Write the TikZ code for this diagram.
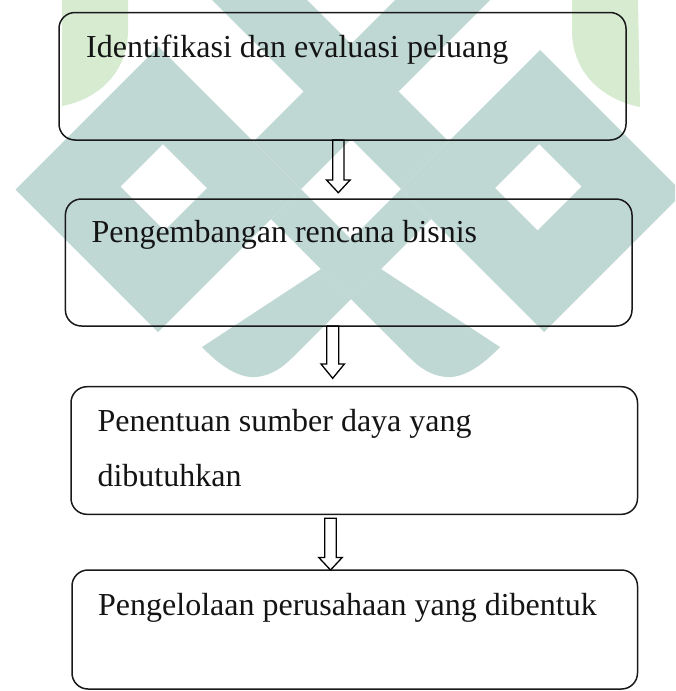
\documentclass[tikz,border=0pt]{standalone}
\usepackage{fontspec}
\setmainfont{Liberation Serif}
\usetikzlibrary{calc}
\definecolor{wmteal}{HTML}{C0D8D4}
\definecolor{wmgreen}{HTML}{D6EBCF}
\newcommand\uvbox[4]{(#1,#2)--(#3,#2)--(#3,#4)--(#1,#4)--cycle}
\tikzset{
  box/.style={draw=black!90, line width=1.5pt, rounded corners=16pt, inner sep=0pt, outer sep=0pt},
  lbl/.style={anchor=base west, inner sep=0pt, font=\fontsize{32}{38}\selectfont, text=black!92},
  blockarrow/.style={draw=black, line width=1.3pt, line join=miter}
}
\begin{document}
\begin{tikzpicture}[x=1pt,y=-1pt]
\useasboundingbox (0,0) rectangle (675,691);
\begin{scope}
\clip (0,0) rectangle (675,691);
% watermark (approximate)
\fill[wmgreen] (62,0) -- (128,0) -- (128,30) .. controls (128,75) and (95,100) .. (62,106) -- cycle;
\fill[wmgreen] (638,0) -- (572,0) -- (572,30) .. controls (572,75) and (605,100) .. (640,107) -- cycle;
\begin{scope}[x={(0.5pt,-0.5pt)}, y={(0.5pt,0.5pt)}]
  \fill[wmteal, even odd rule] \uvbox{205}{-174}{490}{112} \uvbox{307}{-66}{395}{19};
  \fill[wmteal, even odd rule] \uvbox{590}{212}{876}{490} \uvbox{683}{307}{768}{395};
  \fill[wmteal] \uvbox{395}{112}{490}{560};
  \fill[wmteal] \uvbox{150}{212}{590}{307};
  \fill[wmteal] \uvbox{490}{52}{650}{112};
  \fill[wmteal] \uvbox{590}{52}{650}{212};
\end{scope}
\fill[wmteal] (321,269) -- (202,347) .. controls (222,368) and (240,378) .. (255,377)
  .. controls (272,376) and (284,366) .. (292,358) -- (351,299) -- cycle;
\fill[wmteal] (381,269) -- (500,347) .. controls (480,368) and (462,378) .. (447,377)
  .. controls (430,376) and (418,366) .. (410,358) -- (351,299) -- cycle;
\end{scope}
% boxes
\node[box, minimum width=567pt, minimum height=127.5pt] (b1) at (342.5,76.25) {};
\node[box, minimum width=566.6pt, minimum height=127pt] (b2) at (348.7,262.5) {};
\node[box, minimum width=566.5pt, minimum height=127.6pt] (b3) at (354.25,450.5) {};
\node[box, minimum width=565.5pt, minimum height=119pt] (b4) at (354.75,629.5) {};
% texts
\node[lbl] (t1) at (86,57.3) {Identifikasi dan evaluasi peluang};
\node[lbl] (t2) at (91.3,242) {Pengembangan rencana bisnis};
\node[lbl] (t3a) at (97.3,431.7) {Penentuan sumber daya yang};
\node[lbl] (t3b) at (97.3,486.5) {dibutuhkan};
\node[lbl] (t4) at (98,615) {Pengelolaan perusahaan yang dibentuk};
% arrow tips
\coordinate (p1) at (338.3,192.7);
\coordinate (p2) at (332.7,378.3);
\coordinate (p3) at (330.5,570);
\draw[blockarrow] let \p1=(b1.south -| p1), \p2=(p1) in
  (\x1-5.6pt,\y1) -- (\x1-5.6pt,\y2+12.7pt) -- (\x1-11.8pt,\y2+12.7pt) -- (\x2,\y2)
  -- (\x1+11.8pt,\y2+12.7pt) -- (\x1+5.6pt,\y2+12.7pt) -- (\x1+5.6pt,\y1) -- cycle;
\draw[blockarrow] let \p1=(b2.south -| p2), \p2=(p2) in
  (\x1-6pt,\y1) -- (\x1-6pt,\y2+14.3pt) -- (\x1-11.7pt,\y2+14.3pt) -- (\x2,\y2)
  -- (\x1+11.7pt,\y2+14.3pt) -- (\x1+6pt,\y2+14.3pt) -- (\x1+6pt,\y1) -- cycle;
\draw[blockarrow] let \p1=($(b3.south -| p3)+(0,4)$), \p2=(p3) in
  (\x1-5.7pt,\y1) -- (\x1-5.7pt,\y2+12.5pt) -- (\x1-11.7pt,\y2+12.5pt) -- (\x2,\y2)
  -- (\x1+11.7pt,\y2+12.5pt) -- (\x1+5.7pt,\y2+12.5pt) -- (\x1+5.7pt,\y1) -- cycle;
\end{tikzpicture}
\end{document}
